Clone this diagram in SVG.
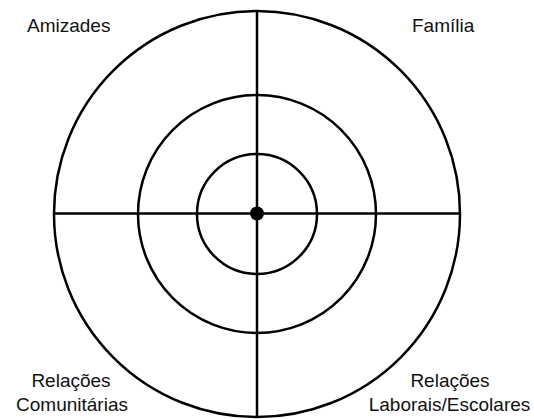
<svg xmlns="http://www.w3.org/2000/svg" width="534" height="419" viewBox="0 0 534 419">
<style>
.ring{fill:none;stroke:#000;stroke-width:2.5}
.ax{stroke:#000;stroke-width:2.5}
text{font-family:"Liberation Sans",Arial,sans-serif;font-size:19px;fill:#111}
</style>
<rect width="534" height="419" fill="#fff"/>
<g id="rings">
<circle id="outer" class="ring" cx="257" cy="214" r="203"/>
<circle id="middle" class="ring" cx="257" cy="214" r="119"/>
<circle id="inner" class="ring" cx="257" cy="214" r="60"/>
</g>
<g id="connectors">
<line class="ax" x1="257" y1="11" x2="257" y2="417"/>
<line class="ax" x1="54" y1="213.5" x2="460" y2="213.5"/>
</g>
<g id="center"><circle cx="257" cy="213.5" r="7" fill="#000"/></g>
<g id="amizades"><text x="27" y="32">Amizades</text></g>
<g id="familia"><text x="412" y="32">Família</text></g>
<g id="comunitarias"><text x="71" y="387" text-anchor="middle">Relações</text><text x="72" y="411" text-anchor="middle">Comunitárias</text></g>
<g id="laborais"><text x="450" y="387" text-anchor="middle">Relações</text><text x="449.5" y="411" text-anchor="middle">Laborais/Escolares</text></g>
</svg>
